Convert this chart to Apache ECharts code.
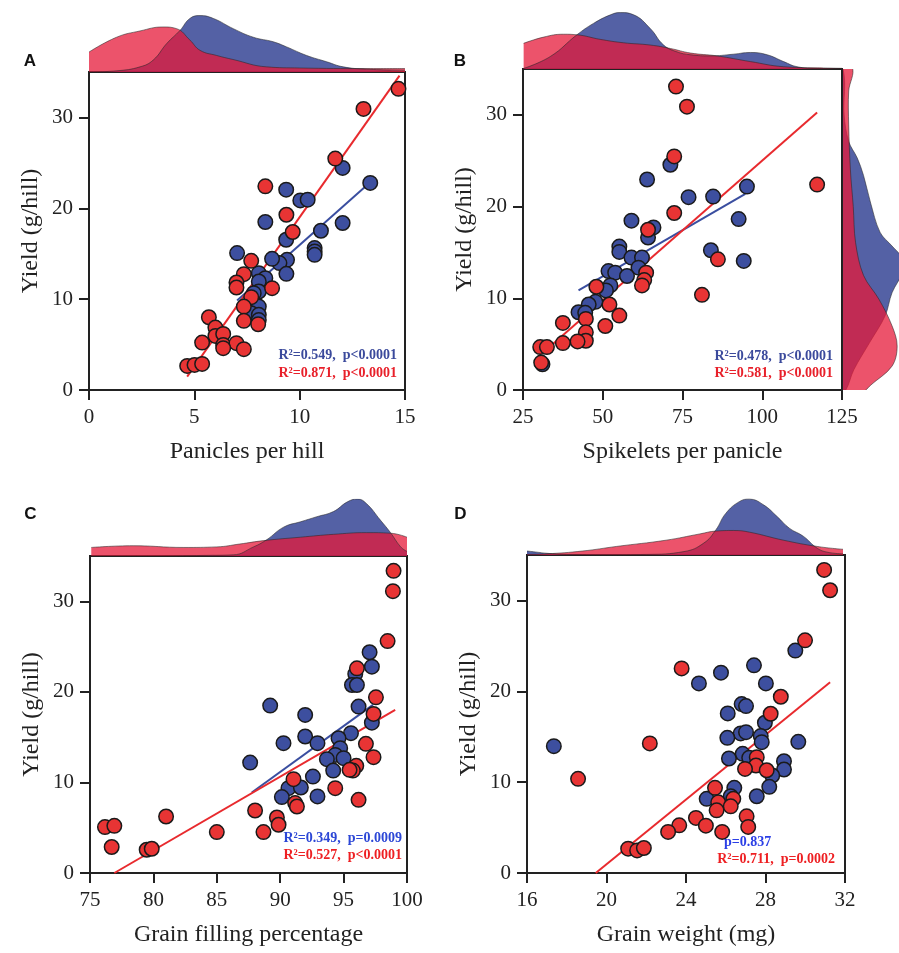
<!DOCTYPE html>
<html><head><meta charset="utf-8">
<script src="https://cdn.jsdelivr.net/npm/echarts@6/dist/echarts.min.js"></script>
<style>html,body{margin:0;padding:0;background:#fff}#c{width:899px;height:953px}</style>
</head><body><div id="c"></div>
<script>
// ---------------- DATA ----------------
// Panel A: Panicles per hill vs Yield
const A_blue = [[12.04,24.44],[13.35,22.79],[9.36,22.05],[10.03,20.87],[10.38,20.95],[8.37,18.49],[12.04,18.38],[11.01,17.53],[9.36,16.54],[10.71,15.62],[10.71,15.25],[10.71,14.88],[7.03,15.07],[9.40,14.33],[9.04,13.97],[8.69,14.44],[9.37,12.79],[8.06,12.86],[8.37,12.31],[8.06,11.94],[8.06,10.84],[7.82,10.66],[8.06,9.18],[7.70,8.46],[8.06,8.27],[8.06,7.7]];
const A_red = [[14.69,33.15],[13.03,30.94],[11.69,25.47],[8.37,22.42],[9.37,19.29],[9.67,17.39],[7.70,14.22],[7.35,12.75],[7.0,11.83],[7.0,11.28],[8.69,11.21],[7.70,10.22],[7.35,9.18],[7.35,7.61],[8.03,7.24],[5.69,8.01],[6.0,6.87],[6.0,5.95],[6.37,6.17],[6.37,4.96],[5.37,5.22],[7.0,5.15],[7.35,4.49],[4.66,2.65],[5.01,2.76],[5.37,2.87],[6.37,4.6]];
const A_fitBlue = [[7.03,9.85],[13.35,22.86]];
const A_fitRed = [[4.66,1.47],[14.74,34.6]];
const A_densBlue = [[0,0],[1.3,0.02],[2.42,0.09],[3.05,0.21],[3.69,0.50],[4.32,0.73],[4.79,0.94],[5.27,0.99],[5.9,0.94],[6.85,0.76],[7.8,0.61],[8.75,0.53],[9.38,0.44],[10.33,0.29],[11.28,0.18],[12.07,0.09],[13.18,0.05],[15,0.03]];
const A_densRed = [[0,0.35],[1.31,0.61],[2.42,0.72],[3.51,0.79],[4.16,0.76],[4.79,0.56],[5.27,0.38],[6.06,0.29],[6.83,0.22],[8.43,0.09],[10.0,0.07],[13.2,0.06],[15,0.06]];

// Panel B: Spikelets per panicle vs Yield
const B_blue = [[63.9,22.95],[71.2,24.56],[95.2,22.18],[76.9,21.02],[84.6,21.09],[59.0,18.46],[92.6,18.64],[65.9,17.73],[64.2,16.63],[55.2,15.64],[55.2,15.06],[59.0,14.44],[62.3,14.44],[61.2,13.34],[51.8,12.97],[53.9,12.79],[57.6,12.43],[52.4,11.40],[51.0,10.86],[47.7,9.61],[45.6,9.32],[42.4,8.48],[44.5,8.41],[83.9,15.24],[94.2,14.07],[31.1,2.81]];
const B_red = [[72.96,33.08],[76.4,30.89],[72.4,25.47],[117.2,22.40],[72.4,19.30],[64.2,17.47],[86.1,14.25],[81.1,10.38],[63.6,12.79],[63.0,11.99],[62.3,11.40],[48.0,11.26],[52.1,9.32],[55.2,8.11],[50.8,6.98],[37.5,7.31],[44.7,7.75],[44.7,6.29],[44.7,5.37],[42.1,5.30],[37.5,5.12],[30.4,4.68],[32.5,4.68],[30.7,2.99]];
const B_fitBlue = [[42.4,10.86],[94.7,21.38]];
const B_fitRed = [[34.1,4.93],[117.2,30.26]];
const B_densBlue = [[25.2,0.01],[33.6,0.22],[41.9,0.60],[47.1,0.80],[52.4,0.95],[55.5,0.99],[59.7,0.95],[64.9,0.71],[69.1,0.42],[73.3,0.30],[77.5,0.25],[83.7,0.23],[91,0.26],[96.3,0.29],[101.5,0.25],[106.7,0.13],[110.9,0.04],[117.2,0.01],[125,0.01]];
const B_densRed = [[25.2,0.45],[31.5,0.56],[37.7,0.61],[41.9,0.60],[49.2,0.52],[56.5,0.46],[64.9,0.42],[71.2,0.36],[77.5,0.28],[85.8,0.23],[96.3,0.13],[106.7,0.04],[117.2,0.02],[125,0.01]];
// right-hand (yield) densities of panel B: [density, yield]
const B_yDensBlue = [[0.0,35],[0.02,30],[0.10,27.1],[0.25,25.3],[0.36,23.4],[0.48,20.5],[0.65,17.2],[0.86,15.7],[1.05,14.3],[1.05,12.9],[0.86,10.6],[0.74,8.1],[0.47,5.2],[0.19,2.2],[0.05,0]];
const B_yDensRed = [[0.16,35.2],[0.10,32.6],[0.10,28.9],[0.13,24],[0.18,20],[0.22,16.1],[0.36,12.5],[0.63,9.9],[0.86,7.0],[0.95,4.8],[0.86,2.6],[0.48,0.5],[0.4,0]];

// Panel C: Grain filling percentage vs Yield
const C_blue = [[97.05,24.37],[97.23,22.78],[95.92,21.97],[95.66,20.76],[96.05,20.76],[96.18,18.37],[89.21,18.48],[91.97,17.45],[97.23,16.60],[95.58,15.44],[91.97,15.07],[92.94,14.33],[90.26,14.33],[94.6,14.88],[94.73,13.78],[94.34,13.04],[95.0,12.68],[93.68,12.57],[87.63,12.19],[94.18,11.31],[92.58,10.65],[90.65,9.37],[91.63,9.44],[90.13,8.38],[92.94,8.45]];
const C_red = [[98.94,33.36],[98.89,31.12],[98.47,25.61],[96.05,22.60],[97.55,19.40],[97.36,17.56],[96.76,14.26],[97.36,12.79],[96.0,11.83],[95.73,11.31],[95.47,11.39],[96.18,8.08],[94.34,9.37],[91.05,10.36],[91.18,7.72],[91.32,7.34],[89.74,6.13],[89.87,5.33],[88.02,6.90],[88.68,4.52],[85.0,4.52],[81.0,6.24],[76.18,5.07],[76.92,5.21],[76.71,2.87],[79.47,2.57],[79.87,2.68]];
const C_fitBlue = [[87.76,8.89],[97.31,18.56]];
const C_fitRed = [[76.92,0],[99.07,18.0]];
const C_densBlue = [[75,0],[80,0],[84,0.01],[86.3,0.02],[87.9,0.16],[88.9,0.28],[90.3,0.51],[91.6,0.60],[92.9,0.69],[94.2,0.78],[95.3,0.95],[96.1,1.0],[96.8,0.92],[97.9,0.63],[98.7,0.41],[99.5,0.16],[100,0.08]];
const C_densRed = [[75.1,0.15],[78.4,0.18],[82.4,0.15],[85.0,0.16],[86.8,0.21],[88.7,0.27],[91.6,0.33],[94.2,0.38],[96.8,0.41],[98.7,0.40],[100,0.33]];

// Panel D: Grain weight vs Yield
const D_blue = [[29.5,24.48],[27.42,22.86],[25.76,22.05],[24.65,20.87],[28.02,20.87],[26.80,18.59],[27.02,18.37],[26.10,17.56],[27.97,16.54],[26.75,15.36],[27.02,15.50],[27.76,15.07],[26.08,14.88],[27.81,14.40],[29.65,14.44],[17.35,13.96],[26.85,13.12],[26.16,12.60],[27.18,12.68],[28.93,12.30],[28.93,11.39],[28.34,10.73],[28.19,9.48],[26.43,9.37],[25.04,8.16],[26.25,8.45],[27.56,8.45]];
const D_red = [[30.95,33.36],[31.25,31.12],[29.99,25.61],[23.78,22.52],[28.77,19.40],[28.26,17.53],[22.18,14.26],[18.57,10.36],[27.56,12.75],[27.52,11.83],[26.97,11.46],[28.06,11.31],[25.46,9.37],[25.62,7.78],[25.54,6.90],[26.38,8.16],[26.25,7.34],[27.05,6.24],[27.13,5.07],[24.5,6.06],[25.0,5.21],[23.66,5.25],[23.10,4.52],[25.82,4.52],[21.09,2.68],[21.54,2.49],[21.88,2.75]];
const D_fitRed = [[19.46,0],[31.25,21.0]];
const D_densBlue = [[16,0.07],[16.5,0.05],[17.0,0.03],[18,0.01],[20,0.005],[22,0.01],[23.9,0.06],[24.9,0.21],[25.5,0.44],[26.0,0.73],[26.7,0.94],[27.2,0.98],[27.9,0.88],[28.6,0.67],[29.2,0.47],[29.9,0.33],[30.6,0.12],[31.1,0.05],[31.9,0.02]];
const D_densRed = [[16,0.01],[17.0,0.02],[18.8,0.07],[20.5,0.15],[23.0,0.26],[24.7,0.37],[25.5,0.42],[26.4,0.43],[27.2,0.40],[28.9,0.26],[30.6,0.15],[31.9,0.10]];

// tick labels
const yTicks = [0,10,20,30];
const xTicksA = [0,5,10,15];
const xTicksB = [25,50,75,100,125];
const xTicksC = [75,80,85,90,95,100];
const xTicksD = [16,20,24,28,32];

const statsText = {
  A: ['R²=0.549,  p<0.0001', 'R²=0.871,  p<0.0001'],
  B: ['R²=0.478,  p<0.0001', 'R²=0.581,  p<0.0001'],
  C: ['R²=0.349,  p=0.0009', 'R²=0.527,  p<0.0001'],
  D: ['p=0.837', 'R²=0.711,  p=0.0002']
};

// ---------------- STYLE / LAYOUT ----------------
const SERIF = '"Liberation Serif","Times New Roman",serif';
const INK = '#222';
const PT_BLUE = '#3d4f9f', PT_RED = '#e83434';
const LN_BLUE = '#3a4ea0', LN_RED = '#e82a2e';
const AREA_BLUE = 'rgba(41,58,143,0.8)', AREA_RED = 'rgba(230,25,58,0.75)';

const panels = [
  {key:'A', box:{left:89, top:72, width:316, height:318}, xmin:0, xmax:15, xint:5, ticks:xTicksA, xName:'Panicles per hill',
   blue:A_blue, red:A_red, fitBlue:A_fitBlue, fitRed:A_fitRed, dBlue:A_densBlue, dRed:A_densRed},
  {key:'B', box:{left:523, top:69, width:319, height:321}, xmin:25, xmax:125, xint:25, ticks:xTicksB, xName:'Spikelets per panicle',
   blue:B_blue, red:B_red, fitBlue:B_fitBlue, fitRed:B_fitRed, dBlue:B_densBlue, dRed:B_densRed},
  {key:'C', box:{left:90, top:556, width:317, height:317}, xmin:75, xmax:100, xint:5, ticks:xTicksC, xName:'Grain filling percentage',
   blue:C_blue, red:C_red, fitBlue:C_fitBlue, fitRed:C_fitRed, dBlue:C_densBlue, dRed:C_densRed},
  {key:'D', box:{left:527, top:555, width:318, height:318}, xmin:16, xmax:32, xint:4, ticks:xTicksD, xName:'Grain weight (mg)',
   blue:D_blue, red:D_red, fitBlue:null, fitRed:D_fitRed, dBlue:D_densBlue, dRed:D_densRed}
];

const grid = [], xAxis = [], yAxis = [], series = [];
const DENS_H = 57;
const PAGE_W = 899;

function addGrid(g){ grid.push(g); return grid.length-1; }

panels.forEach(p => {
  const gi = addGrid(Object.assign({show:true, borderColor:INK, borderWidth:2, backgroundColor:'rgba(0,0,0,0)'}, p.box));
  xAxis.push({gridIndex:gi, type:'value', min:p.xmin, max:p.xmax, interval:p.xint,
    axisLine:{show:true, onZero:false, lineStyle:{color:INK, width:2}},
    axisTick:{show:true, length:10, lineStyle:{color:INK, width:2}, customValues:p.ticks},
    axisLabel:{margin:17, fontSize:21, fontFamily:SERIF, color:INK, customValues:p.ticks, showMinLabel:true, showMaxLabel:true},
    splitLine:{show:false},
    name:p.xName, nameLocation:'middle', nameGap:50, nameTextStyle:{fontSize:24, fontFamily:SERIF, color:INK}});
  yAxis.push({gridIndex:gi, type:'value', min:0, max:35,
    axisLine:{show:true, onZero:false, lineStyle:{color:INK, width:2}},
    axisTick:{show:true, length:10, lineStyle:{color:INK, width:2}, customValues:yTicks},
    axisLabel:{margin:16, fontSize:21, fontFamily:SERIF, color:INK, customValues:yTicks},
    splitLine:{show:false},
    name:'Yield (g/hill)', nameLocation:'middle', nameGap:46, nameTextStyle:{fontSize:24, fontFamily:SERIF, color:INK}});
  const ai = xAxis.length-1;

  // top density grid
  const dg = addGrid({left:p.box.left, top:p.box.top-DENS_H, width:p.box.width, height:DENS_H, show:false});
  xAxis.push({gridIndex:dg, type:'value', min:p.xmin, max:p.xmax, show:false});
  yAxis.push({gridIndex:dg, type:'value', min:0, max:1, show:false});
  const di = xAxis.length-1;
  [[p.dBlue, AREA_BLUE],[p.dRed, AREA_RED]].forEach(([d,c]) => {
    series.push({type:'line', xAxisIndex:di, yAxisIndex:di, data:d, smooth:0.45, symbol:'none', silent:true,
      lineStyle:{color:'rgba(40,40,40,0.8)', width:0.7}, areaStyle:{color:c, opacity:1}, z:1});
  });

  // fit lines
  if (p.fitBlue) series.push({type:'line', xAxisIndex:ai, yAxisIndex:ai, data:p.fitBlue, symbol:'none', lineStyle:{color:LN_BLUE, width:2}, z:2});
  series.push({type:'line', xAxisIndex:ai, yAxisIndex:ai, data:p.fitRed, symbol:'none', lineStyle:{color:LN_RED, width:2}, z:2});
  // points
  series.push({type:'scatter', xAxisIndex:ai, yAxisIndex:ai, data:p.blue, symbolSize:14.5,
    itemStyle:{color:PT_BLUE, borderColor:'#1a1a1a', borderWidth:1.5, opacity:1}, z:3});
  series.push({type:'scatter', xAxisIndex:ai, yAxisIndex:ai, data:p.red, symbolSize:14.5,
    itemStyle:{color:PT_RED, borderColor:'#1a1a1a', borderWidth:1.5, opacity:1}, z:4});

  // right (yield) density for panel B (runs off the page edge as in the reference)
  if (p.key === 'B') {
    const rl = p.box.left+p.box.width+1;
    const rw = PAGE_W - rl;
    const rg = addGrid({left:rl, top:p.box.top, width:rw, height:p.box.height, show:false});
    xAxis.push({gridIndex:rg, type:'value', min:0, max:rw/DENS_H, show:false});
    yAxis.push({gridIndex:rg, type:'value', min:0, max:35, show:false});
    const ri = xAxis.length-1;
    [[B_yDensBlue, AREA_BLUE],[B_yDensRed, AREA_RED]].forEach(([d,c]) => {
      series.push({type:'custom', xAxisIndex:ri, yAxisIndex:ri, data:d, clip:true, silent:true, z:1,
        renderItem:(params, api) => {
          if (params.dataIndex !== 0) return null;
          const pts = [api.coord([-0.3, d[0][1]+3])].concat(d.map(v => api.coord(v)), [api.coord([-0.3, d[d.length-1][1]-3])]);
          return {type:'polygon', shape:{points:pts, smooth:0.35}, style:{fill:c, stroke:'rgba(40,40,40,0.8)', lineWidth:0.7}};
        }});
    });
  }
});

// annotation texts and panel letters
const graphic = [];
function txt(x, y, text, color, align){
  graphic.push({type:'text', x:x, y:y, z:10, style:{text:text, fill:color, textAlign:align||'right', textVerticalAlign:'middle',
    font:'bold 14px ' + SERIF}});
}
txt(397, 355, statsText.A[0], '#3b4a9c'); txt(397, 373, statsText.A[1], '#e8202a');
txt(833, 356, statsText.B[0], '#3b4a9c'); txt(833, 373, statsText.B[1], '#e8202a');
txt(402, 838, statsText.C[0], '#2c47d6'); txt(402, 855, statsText.C[1], '#ee1f22');
txt(724, 842, statsText.D[0], '#2b3fe6', 'left'); txt(835, 859, statsText.D[1], '#ee1f22');
[['A',30,61],['B',460,61],['C',30.5,514.5],['D',460.5,514.5]].forEach(([t,x,y]) => {
  graphic.push({type:'text', x:x, y:y, style:{text:t, fill:'#111', textAlign:'center', textVerticalAlign:'middle',
    font:'bold 17px "Liberation Sans", Arial, sans-serif'}});
});

const chart = echarts.init(document.getElementById('c'), null, {renderer:'canvas'});
chart.setOption({animation:false, backgroundColor:'#fff', grid, xAxis, yAxis, series, graphic});
</script>
</body></html>
